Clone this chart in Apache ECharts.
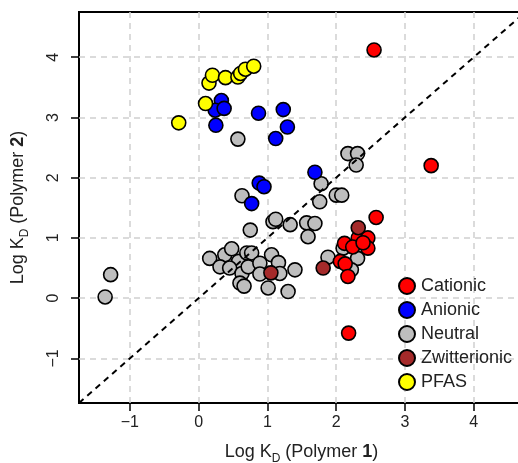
<!DOCTYPE html>
<html lang="en">
<head>
    <meta charset="UTF-8">
    <style>
    body {
        margin: 0;
        padding: 0;
        background-color: #ffffff;
    }

    #chart {
        width: 518px;
        height: 463px;
    }
    </style>
    <script src="https://cdn.jsdelivr.net/npm/echarts@6.0.0/dist/echarts.min.js"></script>
</head>
<body>
    <div id="chart"></div>
    <script>
        // Log KD values, [polymer 1, polymer 2]
        const cationic = [
            [2.55, 4.12], [3.38, 2.20], [2.58, 1.34], [2.18, -0.58], [2.32, 1.00],
            [2.46, 1.00], [2.46, 0.83], [2.12, 0.91], [2.24, 0.85], [2.39, 0.92],
            [2.06, 0.61], [2.13, 0.57], [2.17, 0.36]
        ];
        const anionic = [
            [0.33, 3.28], [0.24, 3.12], [0.37, 3.15], [0.25, 2.87], [0.87, 3.07],
            [1.23, 3.13], [1.29, 2.84], [1.12, 2.65], [1.69, 2.09], [0.88, 1.91],
            [0.95, 1.85], [0.77, 1.57]
        ];
        const neutral = [
            [0.57, 2.64], [0.63, 1.70], [0.75, 1.13], [1.08, 1.27], [1.12, 1.31],
            [1.33, 1.22], [1.57, 1.25], [1.69, 1.24], [1.59, 1.02], [1.78, 1.90],
            [1.76, 1.60], [2.00, 1.71], [2.08, 1.71], [2.17, 2.40], [2.31, 2.40],
            [2.29, 2.21], [-1.36, 0.02], [-1.28, 0.39], [0.16, 0.66], [0.38, 0.72],
            [0.48, 0.82], [0.31, 0.52], [0.58, 0.61], [0.45, 0.50], [0.70, 0.75],
            [0.77, 0.75], [0.63, 0.41], [0.72, 0.52], [0.60, 0.25], [0.66, 0.20],
            [0.89, 0.58], [1.06, 0.72], [1.16, 0.59], [1.18, 0.41], [0.89, 0.40],
            [1.01, 0.17], [1.30, 0.11], [1.40, 0.47], [1.88, 0.68], [2.10, 0.83],
            [2.31, 0.66], [2.22, 0.47]
        ];
        const zwitterionic = [[2.32, 1.17], [1.81, 0.50], [1.05, 0.42]];
        const pfas = [
            [-0.29, 2.91], [0.10, 3.23], [0.15, 3.57], [0.20, 3.70], [0.39, 3.66],
            [0.57, 3.67], [0.61, 3.73], [0.68, 3.80], [0.80, 3.85]
        ];

        const legendNames = ['Cationic', 'Anionic', 'Neutral', 'Zwitterionic', 'PFAS'];
        const xTicks = [-1, 0, 1, 2, 3, 4];
        const yTicks = [-1, 0, 1, 2, 3, 4];
        const xRange = [-1.74, 4.73];
        const yRange = [-1.74, 4.75];
        const identityLine = [[-1.74, -1.74], [4.75, 4.75]];

        const chart = echarts.init(document.getElementById('chart'), null, { renderer: 'canvas' });

        const font = 'Liberation Sans, Arial, sans-serif';

        function pointSeries(name, data, color) {
            return {
                name: name,
                type: 'scatter',
                data: data,
                symbol: 'circle',
                symbolSize: 14,
                itemStyle: {
                    color: color,
                    borderColor: '#000',
                    borderWidth: 1.6,
                    opacity: 1
                },
                emphasis: { disabled: true }
            };
        }

        function axisBase(range, ticks) {
            return {
                type: 'value',
                min: range[0],
                max: range[1],
                axisLine: { show: false, onZero: false },
                axisTick: {
                    show: true,
                    customValues: ticks,
                    inside: false,
                    length: 8,
                    lineStyle: { color: '#000', width: 1.5 }
                },
                axisLabel: {
                    customValues: ticks,
                    color: '#222',
                    fontSize: 16,
                    fontFamily: font,
                    formatter: v => (v < 0 ? '\u2212' + Math.abs(v) : String(v))
                },
                splitLine: {
                    show: true,
                    lineStyle: { color: '#cfcfcf', width: 1.5, type: [6, 5] }
                }
            };
        }

        const xAxis = axisBase(xRange, xTicks);
        xAxis.axisLabel.margin = 12;
        xAxis.name = '{n|Log K}{s|D}{n| (Polymer }{b|1}{n|)}';
        xAxis.nameLocation = 'middle';
        xAxis.nameGap = 40;

        const yAxis = axisBase(yRange, yTicks);
        yAxis.axisLabel.rotate = 90;
        yAxis.axisLabel.margin = 17;
        yAxis.name = '{n|Log K}{s|D}{n| (Polymer }{b|2}{n|)}';
        yAxis.nameLocation = 'middle';
        yAxis.nameGap = 52;

        const nameRich = {
            n: { fontSize: 18, fontFamily: font, color: '#222' },
            s: { fontSize: 12, fontFamily: font, color: '#222', verticalAlign: 'bottom', padding: [0, 0, -4, 0] },
            b: { fontSize: 18, fontFamily: font, color: '#222', fontWeight: 'bold' }
        };
        xAxis.nameTextStyle = { rich: nameRich };
        yAxis.nameTextStyle = { rich: nameRich };

        chart.setOption({
            animation: false,
            grid: {
                left: 79,
                top: 12,
                right: -6,
                bottom: 60,
                outerBoundsMode: 'none',
                containLabel: false,
                show: true,
                borderColor: '#000',
                borderWidth: 2,
                backgroundColor: 'transparent'
            },
            xAxis: xAxis,
            yAxis: yAxis,
            legend: {
                data: legendNames,
                orient: 'vertical',
                left: 393,
                top: 272,
                itemWidth: 16,
                itemHeight: 16,
                itemGap: 6,
                icon: 'circle',
                textStyle: { fontSize: 18, fontFamily: font, color: '#222', padding: [0, 0, 0, 1] }
            },
            series: [
                {
                    name: 'identity',
                    type: 'line',
                    data: identityLine,
                    symbol: 'none',
                    silent: true,
                    lineStyle: { color: '#000', width: 2, type: [6, 5] }
                },
                pointSeries('Neutral', neutral, '#bebebe'),
                pointSeries('Cationic', cationic, '#ff0000'),
                pointSeries('Zwitterionic', zwitterionic, '#a52a2a'),
                pointSeries('Anionic', anionic, '#0000ff'),
                pointSeries('PFAS', pfas, '#ffff00')
            ]
        });
    </script>
</body>
</html>
